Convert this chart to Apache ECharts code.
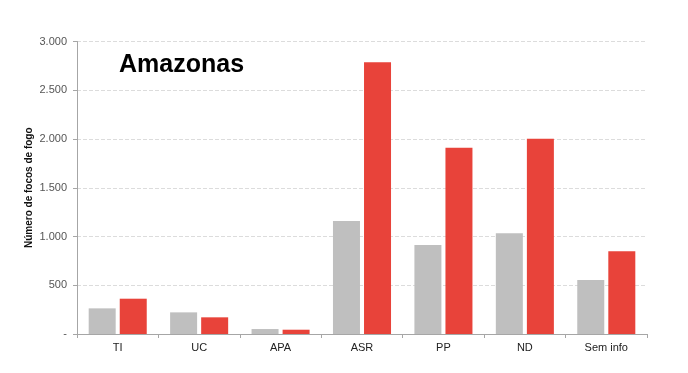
<!DOCTYPE html>
<html><head><meta charset="utf-8">
<script src="https://cdn.jsdelivr.net/npm/echarts@6/dist/echarts.min.js"></script>
<style>html,body{margin:0;padding:0;background:#fff}#c{width:688px;height:373px}</style>
</head><body><div id="c"></div>
<script>
var categories = ['TI','UC','APA','ASR','PP','ND','Sem info'];
var serieCinza = [263, 222, 51, 1159, 913, 1033, 554];
var serieVermelha = [362, 171, 44, 2787, 1911, 2003, 848];
var yTicks = [0, 500, 1000, 1500, 2000, 2500, 3000];

var chart = echarts.init(document.getElementById('c'));
function fmt(v){ if(v===0) return '-'; return String(v).replace(/\B(?=(\d{3})+(?!\d))/g,'.'); }
chart.setOption({
  animation:false,
  title:{text:'Amazonas', left:114, top:48, textStyle:{fontFamily:'Liberation Sans, Arial', fontWeight:'bold', fontSize:25, color:'#000'}},
  grid:{left:77, right:41, top:41.5, bottom:39},
  xAxis:{type:'category', data:categories,
    axisLine:{lineStyle:{color:'#a6a6a6'}},
    axisTick:{show:true, alignWithLabel:false, length:4, lineStyle:{color:'#a6a6a6'}},
    axisLabel:{color:'#222', fontFamily:'Liberation Sans, Arial', fontSize:11, margin:8}},
  yAxis:{type:'value', min:yTicks[0], max:yTicks[yTicks.length-1], interval:500,
    name:'Número de focos de fogo', nameLocation:'middle', nameGap:43, nameMoveOverlap:false,
    nameTextStyle:{fontFamily:'Liberation Sans, Arial', fontWeight:'bold', fontSize:10, color:'#111'},
    axisLine:{show:true, lineStyle:{color:'#a6a6a6'}},
    axisTick:{show:true, length:4, lineStyle:{color:'#a6a6a6'}},
    axisLabel:{formatter:fmt, color:'#555', fontFamily:'Liberation Sans, Arial', fontSize:11, margin:10},
    splitLine:{show:true, lineStyle:{color:'#dcdcdc', type:'dashed'}}},
  series:[
    {type:'bar', data:serieCinza, barWidth:27, barGap:'15%', itemStyle:{color:'#bfbfbf'}},
    {type:'bar', data:serieVermelha, barWidth:27, barGap:'15%', itemStyle:{color:'#e8433a'}}
  ]
});
</script></body></html>
